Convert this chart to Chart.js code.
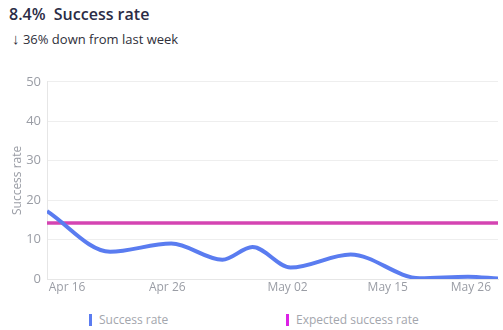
<!DOCTYPE html>
<html>
<head>
<meta charset="utf-8">
<script src="https://cdn.jsdelivr.net/npm/chart.js@4"></script>
<style>
  body { margin: 0; background: #fff; font-family: "Open Sans", sans-serif; }
  #wrap { position: relative; width: 503px; height: 330px; overflow: hidden; }
  #title { position: absolute; left: 9px; top: 3px; font-size: 16px; font-weight: 600; color: #2b2c46; white-space: pre; }
  #sub { position: absolute; left: 12px; top: 28px; font-size: 13px; color: #2f2f3a; }
  #sub .arrow { font-size: 15px; }
  #successChart { position: absolute; left: 0; top: 68px; }
  #legend { position: absolute; top: 311px; left: 0; width: 503px; font-size: 12px; color: #a3a6ad; }
  .item { position: absolute; display: flex; align-items: center; }
  .mark { display: inline-block; width: 3px; height: 12px; margin-right: 7px; }
</style>
</head>
<body>
<div id="wrap">
  <div id="title">8.4%  Success rate</div>
  <div id="sub"><span class="arrow">↓</span> 36% down from last week</div>
  <canvas id="successChart" width="503" height="231"></canvas>
  <div id="legend"></div>
</div>
<script>
// day index along the x axis and the success rate at that point
const days = [0, 6.3, 12.4, 17.5, 20.5, 24.3, 30.3, 37.2, 42, 45];
const successRate = [17.2, 6.9, 9.0, 4.9, 8.1, 2.9, 6.2, 0.2, 0.6, 0.1];
const expectedRate = 14.2;

const tickDays = [2, 12, 24, 34, 42.3];
const tickLabels = ['Apr 16', 'Apr 26', 'May 02', 'May 15', 'May 26'];

const seriesNames = ['Success rate', 'Expected success rate'];
const legendColors = ['#5b7cf0', '#dc22e6'];
const legendLeft = [89, 286];

new Chart(document.getElementById('successChart'), {
  type: 'line',
  data: {
    datasets: [{
      label: seriesNames[0],
      data: days.map((d, i) => ({ x: d, y: successRate[i] })),
      borderColor: '#5a7cf0',
      borderWidth: 4,
      pointRadius: 0,
      cubicInterpolationMode: 'monotone'
    },
    {
      label: seriesNames[1],
      data: [{ x: 0, y: expectedRate }, { x: 45, y: expectedRate }],
      borderColor: '#d444b2',
      borderWidth: 3.5,
      pointRadius: 0
    }]
  },
  options: {
    responsive: false,
    animation: false,
    layout: {
      padding: { top: 11, right: 5, left: 0, bottom: 0 }
    },
    plugins: {
      legend: { display: false },
      tooltip: { enabled: false }
    },
    scales: {
      x: {
        type: 'linear',
        min: 0,
        max: 45,
        afterFit: (scale) => { scale.height = 20; },
        grid: { display: false, drawTicks: false },
        border: { color: '#e6e6e6' },
        afterBuildTicks: (scale) => {
          scale.ticks = tickDays.map(v => ({ value: v }));
        },
        ticks: {
          padding: 1,
          maxRotation: 0,
          autoSkip: false,
          color: '#9a9da5',
          font: { family: 'Open Sans', size: 12 },
          callback: (value) => tickLabels[tickDays.indexOf(value)]
        }
      },
      y: {
        min: 0,
        max: 50,
        afterFit: (scale) => { scale.width = 47; },
        grid: { color: '#eeeeee', drawTicks: false },
        border: { color: '#e6e6e6' },
        ticks: {
          stepSize: 10,
          padding: 6,
          color: '#9a9da5',
          font: { family: 'Open Sans', size: 13 }
        },
        title: {
          display: true,
          text: 'Success rate',
          color: '#9a9da5',
          padding: { top: 10, bottom: 0 },
          font: { family: 'Open Sans', size: 12 }
        }
      }
    }
  }
});

const legend = document.getElementById('legend');
seriesNames.forEach((name, i) => {
  const item = document.createElement('div');
  item.className = 'item';
  item.style.left = legendLeft[i] + 'px';
  item.innerHTML = `<span class="mark" style="background:${legendColors[i]}"></span>${name}`;
  legend.appendChild(item);
});
</script>
</body>
</html>
